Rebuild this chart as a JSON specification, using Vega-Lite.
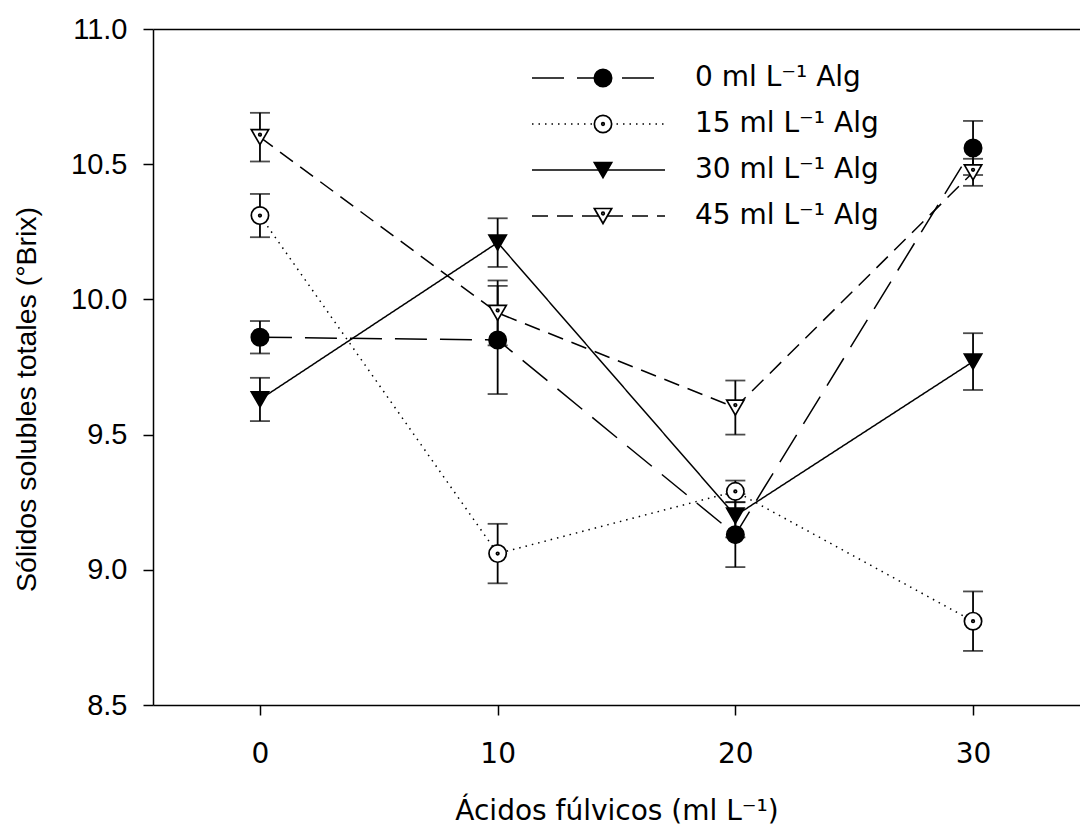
{
  "$schema": "https://vega.github.io/schema/vega-lite/v6.json",
  "width": 927,
  "height": 676,
  "autosize": {"type": "none"},
  "padding": {"left": 153, "top": 29, "right": 0, "bottom": 120},
  "background": "white",
  "config": {
    "view": {"stroke": null},
    "font": "Liberation Sans",
    "axis": {
      "labelFont": "Liberation Sans",
      "titleFont": "Liberation Sans",
      "labelFontSize": 29,
      "titleFontSize": 28.5,
      "titleFontWeight": "normal",
      "labelColor": "black",
      "titleColor": "black",
      "domainColor": "black",
      "tickColor": "black",
      "domainWidth": 1.5,
      "tickWidth": 1.5,
      "grid": false
    }
  },
  "data": {
    "values": [
      {"af": 0, "serie": "0 ml L⁻¹ Alg", "brix": 9.86, "err": 0.06},
      {"af": 10, "serie": "0 ml L⁻¹ Alg", "brix": 9.85, "err": 0.2},
      {"af": 20, "serie": "0 ml L⁻¹ Alg", "brix": 9.13, "err": 0.12},
      {"af": 30, "serie": "0 ml L⁻¹ Alg", "brix": 10.56, "err": 0.1},
      {"af": 0, "serie": "15 ml L⁻¹ Alg", "brix": 10.31, "err": 0.08},
      {"af": 10, "serie": "15 ml L⁻¹ Alg", "brix": 9.06, "err": 0.11},
      {"af": 20, "serie": "15 ml L⁻¹ Alg", "brix": 9.29, "err": 0.04},
      {"af": 30, "serie": "15 ml L⁻¹ Alg", "brix": 8.81, "err": 0.11},
      {"af": 0, "serie": "30 ml L⁻¹ Alg", "brix": 9.63, "err": 0.08},
      {"af": 10, "serie": "30 ml L⁻¹ Alg", "brix": 10.21, "err": 0.09},
      {"af": 20, "serie": "30 ml L⁻¹ Alg", "brix": 9.2, "err": 0.08},
      {"af": 30, "serie": "30 ml L⁻¹ Alg", "brix": 9.77, "err": 0.105},
      {"af": 0, "serie": "45 ml L⁻¹ Alg", "brix": 10.6, "err": 0.09},
      {"af": 10, "serie": "45 ml L⁻¹ Alg", "brix": 9.95, "err": 0.12},
      {"af": 20, "serie": "45 ml L⁻¹ Alg", "brix": 9.6, "err": 0.1},
      {"af": 30, "serie": "45 ml L⁻¹ Alg", "brix": 10.47, "err": 0.05}
    ]
  },
  "resolve": {"axis": {"x": "independent"}},
  "layer": [
    {
      "mark": {
        "type": "errorbar",
        "ticks": {"size": 20, "thickness": 1.8, "color": "black"},
        "rule": {"strokeWidth": 1.8, "color": "black"}
      },
      "encoding": {
        "x": {
          "field": "af", "type": "quantitative",
          "scale": {"domain": [-4.5, 34.5], "nice": false, "zero": false},
          "axis": {
            "orient": "bottom",
            "values": [0, 10, 20, 30],
            "tickSize": 10,
            "labelPadding": 47,
            "labelBaseline": "alphabetic",
            "labelFont": "DejaVu Sans",
            "labelFontSize": 28,
            "title": "Ácidos fúlvicos (ml L⁻¹)",
            "titleFont": "DejaVu Sans",
            "titleFontSize": 28,
            "titleBaseline": "alphabetic",
            "titleY": 114
          }
        },
        "y": {
          "field": "brix", "type": "quantitative",
          "scale": {"domain": [8.5, 11], "nice": false, "zero": false},
          "axis": {
            "values": [8.5, 9, 9.5, 10, 10.5, 11],
            "format": ".1f",
            "tickSize": 10,
            "labelPadding": 16,
            "title": "Sólidos solubles totales (°Brix)",
            "titleAngle": -90,
            "titleAlign": "center",
            "titleBaseline": "alphabetic",
            "titleX": -118,
            "titleY": 370
          }
        },
        "yError": {"field": "err"},
        "detail": {"field": "serie"}
      }
    },
    {
      "mark": {"type": "line", "color": "black", "strokeWidth": 1.5},
      "encoding": {
        "x": {"field": "af", "type": "quantitative", "axis": null},
        "y": {"field": "brix", "type": "quantitative"},
        "strokeDash": {
          "field": "serie", "type": "nominal",
          "scale": {
            "range": [[32, 13], [1.5, 5], [1, 0], [16, 9]]
          },
          "legend": {
            "orient": "none",
            "legendX": 378,
            "legendY": 26,
            "title": null,
            "padding": 0,
            "rowPadding": 0,
            "clipHeight": 46,
            "symbolType": "stroke",
            "symbolSize": 17689,
            "symbolStrokeWidth": 1.5,
            "symbolStrokeColor": "black",
            "labelFont": "DejaVu Sans",
            "labelFontSize": 28,
            "labelColor": "black",
            "labelOffset": 29,
            "labelLimit": 500
          }
        }
      }
    },
    {
      "mark": {"type": "point", "stroke": "black", "strokeWidth": 1.7, "opacity": 1, "size": 300},
      "encoding": {
        "x": {
          "field": "af", "type": "quantitative",
          "axis": {"orient": "top", "labels": false, "ticks": false, "title": null, "domain": true}
        },
        "y": {"field": "brix", "type": "quantitative"},
        "shape": {
          "field": "serie", "type": "nominal",
          "scale": {
            "domain": ["0 ml L⁻¹ Alg", "15 ml L⁻¹ Alg", "30 ml L⁻¹ Alg", "45 ml L⁻¹ Alg"],
            "range": ["circle", "M1,0A1,1,0,1,1,-1,0A1,1,0,1,1,1,0ZM0.15,0A0.15,0.15,0,1,1,-0.15,0A0.15,0.15,0,1,1,0.15,0Z", "triangle-down", "M-1,-0.866L1,-0.866L0,0.866ZM0.15,-0.289A0.15,0.15,0,1,1,-0.15,-0.289A0.15,0.15,0,1,1,0.15,-0.289Z"]
          },
          "legend": {
            "orient": "none",
            "legendX": 436,
            "legendY": 26,
            "title": null,
            "padding": 0,
            "rowPadding": 0,
            "clipHeight": 46,
            "symbolSize": 300,
            "symbolStrokeWidth": 1.7,
            "symbolOpacity": 1,
            "labelExpr": "''",
            "labelFontSize": 28
          }
        },
        "fill": {
          "field": "serie", "type": "nominal",
          "scale": {
            "domain": ["0 ml L⁻¹ Alg", "15 ml L⁻¹ Alg", "30 ml L⁻¹ Alg", "45 ml L⁻¹ Alg"],
            "range": ["black", "white", "black", "white"]
          },
          "legend": {
            "orient": "none",
            "legendX": 436,
            "legendY": 26,
            "title": null,
            "padding": 0,
            "rowPadding": 0,
            "clipHeight": 46,
            "symbolSize": 300,
            "symbolStrokeWidth": 1.7,
            "symbolOpacity": 1,
            "labelExpr": "''",
            "labelFontSize": 28
          }
        },
        "stroke": {
          "field": "serie", "type": "nominal",
          "scale": {
            "domain": ["0 ml L⁻¹ Alg", "15 ml L⁻¹ Alg", "30 ml L⁻¹ Alg", "45 ml L⁻¹ Alg"],
            "range": ["black", "black", "black", "black"]
          },
          "legend": {
            "orient": "none",
            "legendX": 436,
            "legendY": 26,
            "title": null,
            "padding": 0,
            "rowPadding": 0,
            "clipHeight": 46,
            "symbolSize": 300,
            "symbolStrokeWidth": 1.7,
            "symbolOpacity": 1,
            "labelExpr": "''",
            "labelFontSize": 28
          }
        }
      }
    }
  ]
}
